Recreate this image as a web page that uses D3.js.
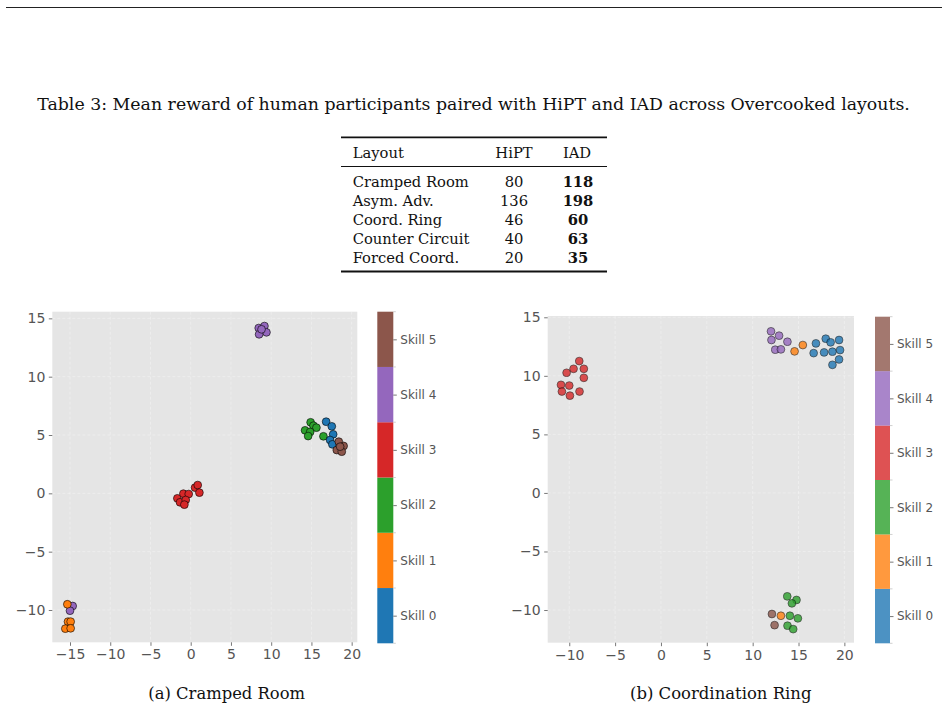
<!DOCTYPE html>
<html>
<head>
<meta charset="utf-8">
<script src="https://cdn.jsdelivr.net/npm/d3@7"></script>
<style>
  body { margin: 0; background: #fff; }
  svg { display: block; }
</style>
</head>
<body>
<div id="fig"></div>
<script>
// table values
const layouts = ["Cramped Room", "Asym. Adv.", "Coord. Ring", "Counter Circuit", "Forced Coord."];
const hiptReward = [80, 136, 46, 40, 20];
const iadReward = [118, 198, 60, 63, 35];

const skillLabels = ["Skill 0", "Skill 1", "Skill 2", "Skill 3", "Skill 4", "Skill 5"];
const skillColors = ["#1f77b4", "#ff7f0e", "#2ca02c", "#d62728", "#9467bd", "#8c564b"];

const crampedTicksX = [-15, -10, -5, 0, 5, 10, 15, 20];
const ringTicksX = [-10, -5, 0, 5, 10, 15, 20];
const ticksY = [-10, -5, 0, 5, 10, 15];

// [x, y, skill]
const crampedPoints = [
  [8.45, 14.17, 4], [9.16, 14.34, 4], [9.41, 13.8, 4], [8.5, 13.63, 4], [8.8, 14.06, 4],
  [14.9, 6.09, 2], [15.25, 5.8, 2], [15.62, 5.63, 2], [14.21, 5.4, 2], [14.84, 5.26, 2], [14.59, 4.91, 2], [16.49, 4.89, 2],
  [16.83, 6.14, 0], [17.53, 5.74, 0], [17.7, 5.06, 0], [17.32, 4.57, 0], [17.6, 4.2, 0],
  [18.4, 4.43, 5], [19.0, 4.06, 5], [18.15, 3.71, 5], [18.77, 3.57, 5], [18.57, 4.0, 5],
  [-1.66, -0.43, 3], [-1.33, -0.77, 3], [-0.91, -0.03, 3], [-0.25, -0.06, 3], [-0.62, -0.57, 3],
  [-0.79, -0.97, 3], [0.54, 0.49, 3], [0.87, 0.71, 3], [1.08, 0.06, 3],
  [-14.67, -9.66, 4], [-15.0, -10.06, 4],
  [-15.33, -9.51, 1], [-15.25, -11.0, 1], [-14.92, -11.0, 1], [-15.58, -11.6, 1], [-14.92, -11.57, 1]
];

const ringPoints = [
  [-10.9, 9.23, 3], [-10.0, 9.17, 3], [-10.8, 8.66, 3], [-9.93, 8.31, 3], [-8.88, 8.66, 3],
  [-10.29, 10.26, 3], [-9.53, 10.6, 3], [-8.91, 11.26, 3], [-8.41, 10.6, 3], [-8.41, 9.83, 3],
  [12.0, 13.8, 4], [12.05, 13.06, 4], [12.88, 13.43, 4], [13.79, 12.91, 4], [12.46, 12.23, 4], [13.08, 12.26, 4],
  [14.57, 12.09, 1], [15.47, 12.63, 1],
  [16.65, 11.94, 0], [16.9, 12.77, 0], [17.79, 12.0, 0], [17.97, 13.17, 0], [18.5, 12.86, 0],
  [18.7, 12.06, 0], [19.42, 13.06, 0], [19.53, 12.2, 0], [18.7, 10.94, 0], [19.42, 11.4, 0],
  [13.77, -8.83, 2], [14.78, -9.14, 2], [14.28, -9.43, 2], [14.06, -10.49, 2], [14.93, -10.71, 2],
  [13.8, -11.34, 2], [14.42, -11.63, 2],
  [13.08, -10.49, 1],
  [12.1, -10.34, 5], [12.39, -11.29, 5]
];

const W = 948, H = 711;
const serif = "'DejaVu Serif', serif";
const sans = "'DejaVu Sans', sans-serif";
const tickGray = "#555";

const svg = d3.select("#fig").append("svg")
    .attr("width", W)
    .attr("height", H);

// scale a text's font so it spans a given width
function fitWidth(sel, target) {
  let fs = parseFloat(sel.attr("font-size"));
  let w = sel.node().getComputedTextLength();
  sel.attr("font-size", (fs * target / w).toFixed(2));
}

// page rule on top
svg.append("line")
    .attr("x1", 6).attr("x2", 942)
    .attr("y1", 7.5).attr("y2", 7.5)
    .attr("stroke", "#222").attr("stroke-width", 1.2);

// ---- table ----
let cap = svg.append("text")
    .attr("x", 473.5).attr("y", 109.5)
    .attr("text-anchor", "middle")
    .attr("font-family", serif).attr("font-size", 16)
    .attr("fill", "#111")
    .text("Table 3: Mean reward of human participants paired with HiPT and IAD across Overcooked layouts.");
fitWidth(cap, 873);

const table = svg.append("g");
const tblLeft = 341, tblRight = 607;
const colLayout = 352.7, colHipt = 514, colIad = 577;
const rowY = d3.scaleLinear().domain([0, 4]).range([187, 263.3]);

table.append("line").attr("x1", tblLeft).attr("x2", tblRight)
    .attr("y1", 137.3).attr("y2", 137.3).attr("stroke", "#111").attr("stroke-width", 1.8);
table.append("line").attr("x1", tblLeft).attr("x2", tblRight)
    .attr("y1", 166.5).attr("y2", 166.5).attr("stroke", "#111").attr("stroke-width", 1.1);
table.append("line").attr("x1", tblLeft).attr("x2", tblRight)
    .attr("y1", 271.5).attr("y2", 271.5).attr("stroke", "#111").attr("stroke-width", 1.8);

let probe = table.append("text")
    .attr("font-family", serif).attr("font-size", 14)
    .text(layouts[0]);
fitWidth(probe, 116);
const cellSize = +probe.attr("font-size");
probe.remove();

const header = [["Layout", colLayout, "start"], ["HiPT", colHipt, "middle"], ["IAD", colIad, "middle"]];
table.selectAll("text.head")
  .data(header)
  .join("text")
    .attr("class", "head")
    .attr("x", d => d[1]).attr("y", 158.3)
    .attr("text-anchor", d => d[2])
    .attr("font-family", serif).attr("font-size", cellSize)
    .attr("fill", "#111")
    .text(d => d[0]);

layouts.forEach((name, i) => {
  table.append("text")
      .attr("x", colLayout).attr("y", rowY(i))
      .attr("font-family", serif).attr("font-size", cellSize).attr("fill", "#111")
      .text(name);
  table.append("text")
      .attr("x", colHipt).attr("y", rowY(i))
      .attr("text-anchor", "middle")
      .attr("font-family", serif).attr("font-size", cellSize).attr("fill", "#111")
      .text(hiptReward[i]);
  table.append("text")
      .attr("x", colIad + 1).attr("y", rowY(i))
      .attr("text-anchor", "middle")
      .attr("font-family", serif).attr("font-size", cellSize).attr("font-weight", "bold").attr("fill", "#111")
      .text(iadReward[i]);
});

// ---- scatter panels ----
function drawPanel(cfg) {
  const g = svg.append("g");
  const x = d3.scaleLinear().domain(cfg.xDomain).range([cfg.left, cfg.right]);
  const y = d3.scaleLinear().domain(cfg.yDomain).range([cfg.bottom, cfg.top]);

  g.append("rect")
      .attr("x", cfg.left).attr("y", cfg.top)
      .attr("width", cfg.right - cfg.left).attr("height", cfg.bottom - cfg.top)
      .attr("fill", "#e5e5e5");

  // faint dashed grid
  g.selectAll("line.gx")
    .data(cfg.ticksX)
    .join("line")
      .attr("class", "gx")
      .attr("x1", d => x(d)).attr("x2", d => x(d))
      .attr("y1", cfg.top).attr("y2", cfg.bottom)
      .attr("stroke", "#fff").attr("stroke-opacity", 0.4)
      .attr("stroke-dasharray", "3,2").attr("stroke-width", 0.8);
  g.selectAll("line.gy")
    .data(ticksY)
    .join("line")
      .attr("class", "gy")
      .attr("x1", cfg.left).attr("x2", cfg.right)
      .attr("y1", d => y(d)).attr("y2", d => y(d))
      .attr("stroke", "#fff").attr("stroke-opacity", 0.4)
      .attr("stroke-dasharray", "3,2").attr("stroke-width", 0.8);

  const fmt = d => d < 0 ? "\u2212" + Math.abs(d) : String(d);

  const xAxis = g.append("g")
      .attr("transform", `translate(0,${cfg.bottom})`)
      .call(d3.axisBottom(x).tickValues(cfg.ticksX).tickFormat(fmt).tickSize(3.5).tickPadding(3.5));
  const yAxis = g.append("g")
      .attr("transform", `translate(${cfg.left},0)`)
      .call(d3.axisLeft(y).tickValues(ticksY).tickFormat(fmt).tickSize(3.5).tickPadding(3.5));
  [xAxis, yAxis].forEach(a => {
    a.select(".domain").remove();
    a.selectAll(".tick line").attr("stroke", tickGray).attr("stroke-width", 0.8);
    a.selectAll(".tick text")
        .attr("fill", tickGray)
        .attr("font-family", sans)
        .attr("font-size", 14);
  });

  g.append("g")
    .selectAll("circle")
    .data(cfg.points)
    .join("circle")
      .attr("cx", d => x(d[0]))
      .attr("cy", d => y(d[1]))
      .attr("r", 3.9)
      .attr("fill", d => skillColors[d[2]])
      .attr("stroke", "#000")
      .attr("stroke-width", 0.6)
      .attr("opacity", cfg.alpha);

  // discrete colorbar
  const cb = svg.append("g");
  const cy = d3.scaleLinear().domain([0, 6]).range([cfg.cbBottom, cfg.cbTop]);
  cb.selectAll("rect")
    .data(skillColors)
    .join("rect")
      .attr("x", cfg.cbLeft)
      .attr("y", (d, i) => cy(i + 1))
      .attr("width", cfg.cbWidth)
      .attr("height", (d, i) => cy(i) - cy(i + 1))
      .attr("fill", d => d)
      .attr("fill-opacity", cfg.alpha);

  const cbRight = cfg.cbLeft + cfg.cbWidth;
  cb.selectAll("line.minor")
    .data(d3.range(7))
    .join("line")
      .attr("class", "minor")
      .attr("x1", cbRight).attr("x2", cbRight + 2.5)
      .attr("y1", d => cy(d)).attr("y2", d => cy(d))
      .attr("stroke", "#bbb").attr("stroke-width", 0.7);

  const cbAxis = cb.append("g")
      .attr("transform", `translate(${cbRight},0)`)
      .call(d3.axisRight(cy).tickValues(d3.range(6).map(i => i + 0.5))
        .tickFormat((d, i) => skillLabels[i]).tickSize(3.5).tickPadding(3.5));
  cbAxis.select(".domain").remove();
  cbAxis.selectAll(".tick line").attr("stroke", tickGray).attr("stroke-width", 0.8);
  cbAxis.selectAll(".tick text")
      .attr("fill", tickGray)
      .attr("font-family", sans)
      .attr("font-size", 12);

  const c = svg.append("text")
      .attr("x", cfg.capX).attr("y", 699.3)
      .attr("text-anchor", "middle")
      .attr("font-family", serif).attr("font-size", 15)
      .attr("fill", "#111")
      .text(cfg.caption);
  fitWidth(c, cfg.capW);
}

drawPanel({
  left: 52.3, right: 357.3, top: 311.7, bottom: 642.3,
  xDomain: [-17.2, 20.7], yDomain: [-12.77, 15.57],
  ticksX: crampedTicksX,
  points: crampedPoints,
  alpha: 1,
  cbLeft: 377.3, cbWidth: 16, cbTop: 311.7, cbBottom: 643.3,
  caption: "(a) Cramped Room", capX: 226.7, capW: 157
});

drawPanel({
  left: 547.7, right: 854, top: 316, bottom: 642.7,
  xDomain: [-12.35, 21.05], yDomain: [-12.79, 15.11],
  ticksX: ringTicksX,
  points: ringPoints,
  alpha: 0.8,
  cbLeft: 875, cbWidth: 15, cbTop: 316.7, cbBottom: 643.3,
  caption: "(b) Coordination Ring", capX: 720.7, capW: 181.7
});
</script>
</body>
</html>
